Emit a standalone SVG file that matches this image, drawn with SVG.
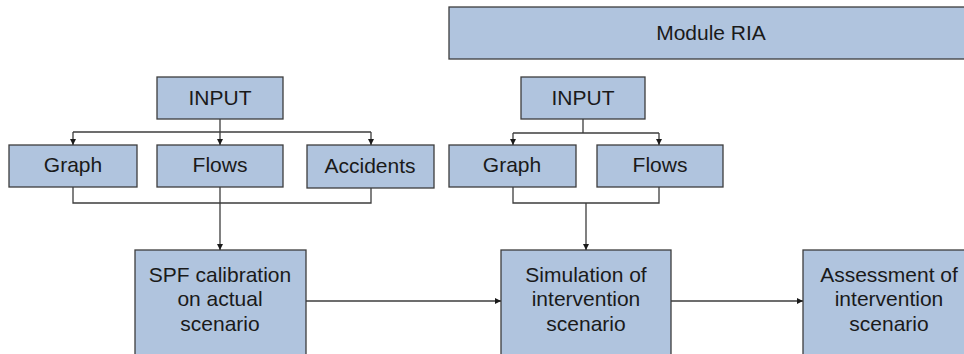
<svg xmlns="http://www.w3.org/2000/svg" width="964" height="354" viewBox="0 0 964 354">
<style>
.box{fill:#b0c4de;stroke:#3d3d3d;stroke-width:1.3}
.t{font-family:"Liberation Sans",Arial,sans-serif;font-size:21px;fill:#1a1a1a;text-anchor:middle}
.c{fill:none;stroke:#3d3d3d;stroke-width:1.3}
</style>
<defs>
<marker id="ah" viewBox="0 0 10 10" refX="10" refY="5" markerWidth="6" markerHeight="6" markerUnits="userSpaceOnUse" orient="auto">
<path d="M0,0 L10,5 L0,10 z" fill="#1a1a1a"/>
</marker>
</defs>
<rect width="964" height="354" fill="#ffffff"/>
<g id="module-ria"><rect class="box" x="449" y="7" width="530" height="52"/><text class="t" x="711" y="40">Module RIA</text></g>
<g id="input1"><rect class="box" x="157" y="77" width="126" height="42"/><text class="t" x="220" y="105">INPUT</text></g>
<g id="graph1"><rect class="box" x="9" y="145" width="128" height="42"/><text class="t" x="73" y="172">Graph</text></g>
<g id="flows1"><rect class="box" x="157" y="145" width="126" height="42"/><text class="t" x="220" y="172">Flows</text></g>
<g id="accidents"><rect class="box" x="307" y="145" width="127" height="43"/><text class="t" x="370" y="173">Accidents</text></g>
<g id="input2"><rect class="box" x="521" y="77" width="124" height="42"/><text class="t" x="583" y="105">INPUT</text></g>
<g id="graph2"><rect class="box" x="449" y="145" width="127" height="42"/><text class="t" x="512" y="172">Graph</text></g>
<g id="flows2"><rect class="box" x="597" y="145" width="126" height="42"/><text class="t" x="660" y="172">Flows</text></g>
<g id="spf"><rect class="box" x="135" y="250" width="171" height="110"/><text class="t" x="220" y="282">SPF calibration</text><text class="t" x="220" y="306">on actual</text><text class="t" x="220" y="331">scenario</text></g>
<g id="simulation"><rect class="box" x="501" y="250" width="170" height="110"/><text class="t" x="586" y="282">Simulation of</text><text class="t" x="586" y="306">intervention</text><text class="t" x="586" y="331">scenario</text></g>
<g id="assessment"><rect class="box" x="803" y="250" width="172" height="110"/><text class="t" x="889" y="282">Assessment of</text><text class="t" x="889" y="306">intervention</text><text class="t" x="889" y="331">scenario</text></g>
<g id="connectors">
<path class="c" d="M220,119 V132"/>
<path class="c" d="M73,132 H371"/>
<path class="c" d="M73,132 V145" marker-end="url(#ah)"/>
<path class="c" d="M220,132 V145" marker-end="url(#ah)"/>
<path class="c" d="M371,132 V145" marker-end="url(#ah)"/>
<path class="c" d="M73,187 V203 H371 V188"/>
<path class="c" d="M220,187 V250" marker-end="url(#ah)"/>
<path class="c" d="M583,119 V133"/>
<path class="c" d="M513,133 H659"/>
<path class="c" d="M513,133 V145" marker-end="url(#ah)"/>
<path class="c" d="M659,133 V145" marker-end="url(#ah)"/>
<path class="c" d="M513,187 V203 H659 V187"/>
<path class="c" d="M586,203 V250" marker-end="url(#ah)"/>
<path class="c" d="M306,301 H501" marker-end="url(#ah)"/>
<path class="c" d="M671,301 H803" marker-end="url(#ah)"/>
</g>
</svg>
